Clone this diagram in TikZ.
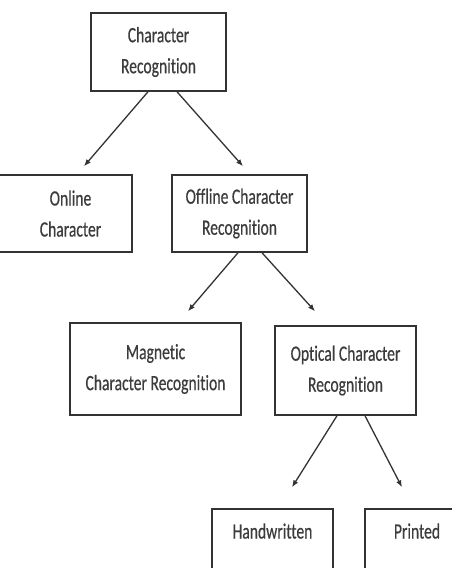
\documentclass[tikz,border=0pt]{standalone}
\usepackage{fontspec}
\setmainfont[Ligatures={NoCommon},FakeBold=0.6]{Carlito}
\usetikzlibrary{arrows.meta}
\definecolor{ln}{HTML}{333333}
\definecolor{tx}{HTML}{3C3C3C}
\newcommand\vst[1]{\scalebox{1}[1.4]{#1}}
\begin{document}
\begin{tikzpicture}[x=1pt,y=-1pt,
  box/.style={draw=ln, line width=1.5pt, rectangle, inner sep=0pt, text=tx, align=center, font=\fontsize{15.6}{31}\selectfont},
  lbl/.style={text=tx, align=center, font=\fontsize{15.6}{31}\selectfont, inner sep=0pt},
  arr/.style={draw=ln, line width=1.3pt, -{Latex[length=7pt,width=5.5pt]}}]
\useasboundingbox (0,0) rectangle (452,568);
\node[box, minimum width=135pt, minimum height=78pt] (root) at (158.5,52) {\vst{Character}\\\vst{Recognition}};
\node[box, minimum width=135pt, minimum height=77pt] (online) at (64.5,213.5) {};
\node[lbl] (onlineT) at (70.5,213.5) {\vst{Online}\\\vst{Character}};
\node[box, minimum width=135pt, minimum height=77pt] (offline) at (239.5,213.5) {\vst{Offline Character}\\\vst{Recognition}};
\node[box, minimum width=171pt, minimum height=92pt] (mag) at (155.5,369) {\vst{Magnetic}\\\vst{Character Recognition}};
\node[box, minimum width=141pt, minimum height=89pt] (opt) at (345.5,370.5) {\vst{Optical Character}\\\vst{Recognition}};
\node[box, minimum width=121pt, minimum height=81pt] (hw) at (272.5,549.5) {};
\node[lbl] (hwT) at (272.5,531) {\vst{Handwritten}};
\node[box, minimum width=105pt, minimum height=81pt] (pr) at (417.5,549.5) {};
\node[lbl] (prT) at (417,531) {\vst{Printed}};
\draw[arr] ([xshift=-10.5pt]root.south) -- ([xshift=19.5pt,yshift=8pt]online.north);
\draw[arr] ([xshift=18.5pt]root.south) -- ([xshift=3.5pt,yshift=8pt]offline.north);
\draw[arr] ([xshift=-1.5pt]offline.south) -- ([xshift=32.5pt,yshift=11pt]mag.north);
\draw[arr] ([xshift=22.5pt]offline.south) -- ([xshift=-30.5pt,yshift=14pt]opt.north);
\draw[arr] ([xshift=-8.5pt]opt.south) -- ([xshift=19.5pt,yshift=21pt]hw.north);
\draw[arr] ([xshift=19.5pt]opt.south) -- ([xshift=-15.5pt,yshift=21pt]pr.north);
\end{tikzpicture}
\end{document}
